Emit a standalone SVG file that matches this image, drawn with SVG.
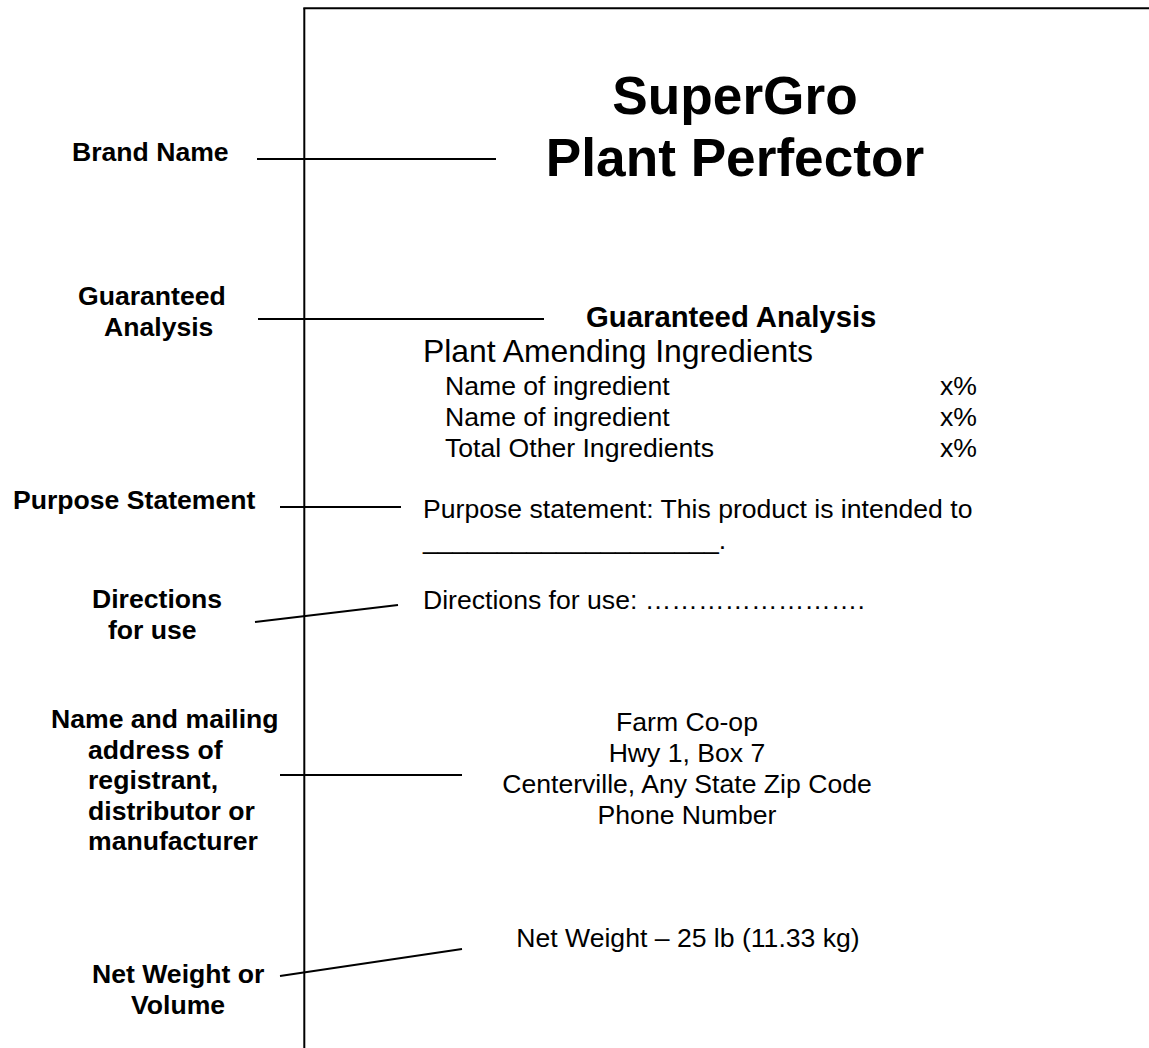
<svg xmlns="http://www.w3.org/2000/svg" width="1149" height="1048" viewBox="0 0 1149 1048">
<style>
.b{font-family:"Liberation Sans",Arial,sans-serif;font-weight:bold;font-size:26.6px;fill:#000}
.r{font-family:"Liberation Sans",Arial,sans-serif;font-size:26.6px;fill:#000}
.c{text-anchor:middle}
line{stroke:#000;stroke-width:2;fill:none}
</style>
<rect width="1149" height="1048" fill="#fff"/>
<g id="label-edge">
<line x1="304.3" y1="8.3" x2="304.3" y2="1048"/>
<line x1="303.3" y1="8.3" x2="1149" y2="8.3"/>
</g>
<g id="connectors">
<line x1="257" y1="159" x2="496" y2="159"/>
<line x1="258" y1="319" x2="544" y2="319"/>
<line x1="280" y1="507" x2="401" y2="507"/>
<line x1="255" y1="622" x2="398" y2="605"/>
<line x1="280" y1="775" x2="462" y2="775"/>
<line x1="280" y1="976" x2="462" y2="949"/>
</g>
<g id="brand-name-label"><text class="b" x="72" y="161">Brand Name</text></g>
<g id="ga-label"><text class="b" x="78" y="305">Guaranteed</text><text class="b" x="104" y="336">Analysis</text></g>
<g id="purpose-label"><text class="b" x="13" y="509">Purpose Statement</text></g>
<g id="directions-label"><text class="b" x="92" y="608">Directions</text><text class="b" x="108" y="639">for use</text></g>
<g id="address-label">
<text class="b" x="51" y="728">Name and mailing</text>
<text class="b" x="88" y="758.5">address of</text>
<text class="b" x="88" y="789">registrant,</text>
<text class="b" x="88" y="819.5">distributor or</text>
<text class="b" x="88" y="850">manufacturer</text>
</g>
<g id="net-label"><text class="b" x="92" y="983">Net Weight or</text><text class="b" x="131" y="1014">Volume</text></g>
<g id="brand-name">
<text class="b c" x="735" y="114" style="font-size:53.2px">SuperGro</text>
<text class="b c" x="735" y="175.5" style="font-size:53.2px">Plant Perfector</text>
</g>
<g id="guaranteed-analysis">
<text class="b" x="586" y="327" style="font-size:29.3px">Guaranteed Analysis</text>
<text class="r" x="423" y="362" style="font-size:31.9px">Plant Amending Ingredients</text>
<text class="r" x="445" y="395">Name of ingredient</text><text class="r" x="940" y="395">x%</text>
<text class="r" x="445" y="426">Name of ingredient</text><text class="r" x="940" y="426">x%</text>
<text class="r" x="445" y="457">Total Other Ingredients</text><text class="r" x="940" y="457">x%</text>
</g>
<g id="purpose">
<text class="r" x="423" y="518">Purpose statement: This product is intended to</text>
<text class="r" x="423" y="549">____________________.</text>
</g>
<g id="directions"><text class="r" x="423" y="609">Directions for use: &#8230;&#8230;&#8230;&#8230;&#8230;&#8230;&#8230;&#8230;.</text></g>
<g id="address">
<text class="r c" x="687" y="731">Farm Co-op</text>
<text class="r c" x="687" y="762">Hwy 1, Box 7</text>
<text class="r c" x="687" y="793">Centerville, Any State Zip Code</text>
<text class="r c" x="687" y="824">Phone Number</text>
</g>
<g id="net-weight"><text class="r c" x="688" y="947">Net Weight – 25 lb (11.33 kg)</text></g>
</svg>
